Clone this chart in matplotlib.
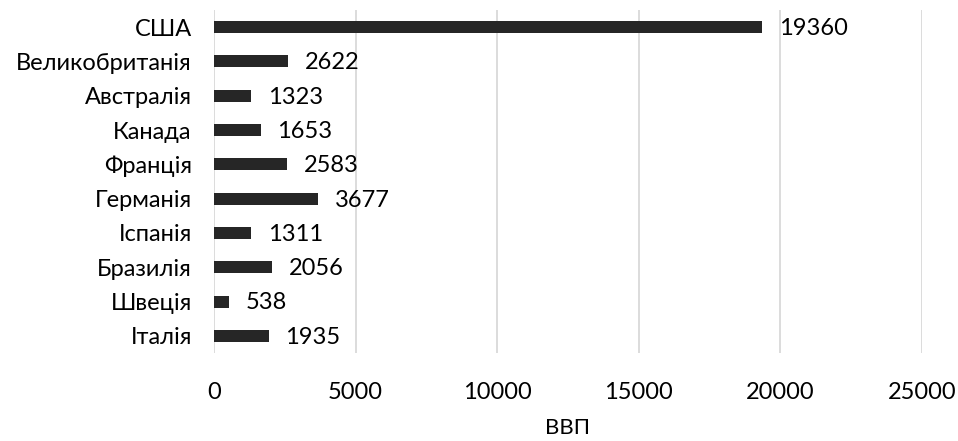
import matplotlib
matplotlib.use("Agg")
import matplotlib.pyplot as plt

# GDP by country, top to bottom as shown
countries = ["США", "Великобританія", "Австралія", "Канада", "Франція",
             "Германія", "Іспанія", "Бразилія", "Швеція", "Італія"]
gdp = [19360, 2622, 1323, 1653, 2583, 3677, 1311, 2056, 538, 1935]
xticks = [0, 5000, 10000, 15000, 20000, 25000]

plt.rcParams["font.family"] = ["Lato", "DejaVu Sans"]
fs = 17

fig = plt.figure(figsize=(9.58, 4.41), dpi=100)
ax = fig.add_axes([0.2234, 0.1995, 0.739, 0.7778])

ypos = list(range(len(countries)))[::-1]
ax.barh(ypos, gdp, height=0.35, color="#262626", zorder=3)

for y, v in zip(ypos, gdp):
    ax.annotate(str(v), xy=(v, y), xytext=(12, -1), textcoords="offset points",
                va="center", ha="left", fontsize=fs, color="#000000")

ax.set_xlim(0, 25000)
ax.set_ylim(-0.5, len(countries) - 0.5)
ax.set_xticks(xticks)
ax.set_xticklabels([str(t) for t in xticks])
ax.set_yticks(ypos)
ax.set_yticklabels(countries)

ax.grid(axis="x", color="#d9d9d9", linewidth=1.3, zorder=0)
ax.set_axisbelow(True)
for s in ax.spines.values():
    s.set_visible(False)
ax.tick_params(axis="both", length=0, labelsize=fs, colors="#000000")
ax.tick_params(axis="x", pad=21)
ax.tick_params(axis="y", pad=16)
ax.set_xlabel("ВВП", fontsize=fs - 1, labelpad=11)

plt.savefig("out.png", dpi=100)
